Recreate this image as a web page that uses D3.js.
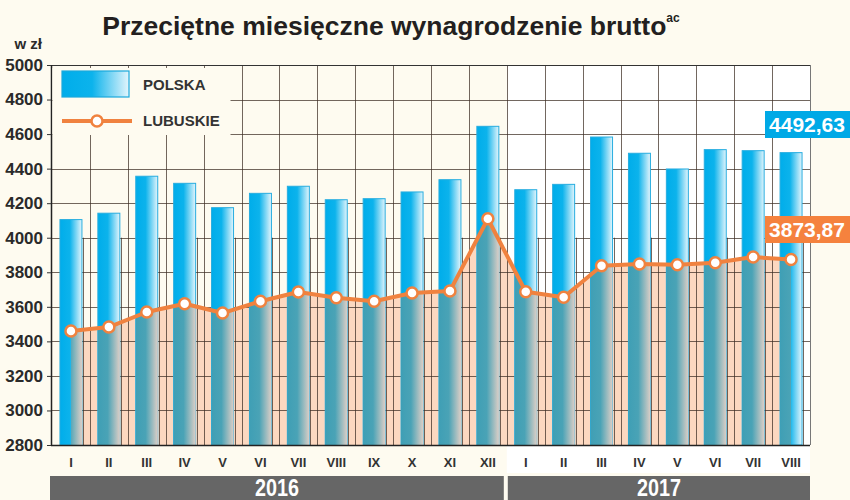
<!DOCTYPE html>
<html>
<head>
<meta charset="utf-8">
<script src="https://cdn.jsdelivr.net/npm/d3@7"></script>
<style>
  body { margin: 0; background: #fefbf0; }
  svg { display: block; font-family: "Liberation Sans", Arial, sans-serif; }
</style>
</head>
<body>
<svg id="chart" width="850" height="500"></svg>
<script>
// data
const months = ["I", "II", "III", "IV", "V", "VI", "VII", "VIII", "IX", "X", "XI", "XII",
                "I", "II", "III", "IV", "V", "VI", "VII", "VIII"]
const years = ["2016", "2017"]
const yearMonths = [12, 8]
const polska = [4105, 4142, 4356, 4315, 4174, 4257, 4298, 4220, 4226, 4265, 4336, 4645,
                4278, 4309, 4583, 4489, 4398, 4510, 4504, 4492.63]
const lubuskie = [3460, 3483, 3570, 3618, 3564, 3632, 3686, 3653, 3632, 3680, 3692, 4110,
                  3687, 3655, 3838, 3848, 3844, 3855, 3888, 3873.87]
const yTicks = [2800, 3000, 3200, 3400, 3600, 3800, 4000, 4200, 4400, 4600, 4800, 5000]
const lastPolska = "4492,63"
const lastLubuskie = "3873,87"

const pLeft = 52, pRight = 810, pTop = 65, pBottom = 445

const svg = d3.select("#chart")

const idx = months.map((m, i) => i)
const x = d3.scaleBand().domain(idx).range([pLeft, pRight]).paddingInner(0.42).paddingOuter(0.21)
const y = d3.scaleLinear().domain([2800, 5000]).range([pBottom, pTop])
const step = x.step()
const bw = x.bandwidth()
const cx = i => x(i) + bw / 2
const edge = i => x(i) - step * 0.21   // left boundary of month i

// gradients
const defs = svg.append("defs")
const grad = (id, stops) => {
  const g = defs.append("linearGradient").attr("id", id)
      .attr("x1", "0%").attr("x2", "100%").attr("y1", "0%").attr("y2", "0%")
  stops.forEach(s => g.append("stop").attr("offset", s[0]).attr("stop-color", s[1]))
}
grad("blue", [["0%", "#00adea"], ["45%", "#0cb3ec"], ["100%", "#e4f5fc"]])
grad("teal", [["0%", "#3f9fb5"], ["45%", "#4aa3b6"], ["100%", "#dccec6"]])

// backgrounds: 2017 part is white
const split = edge(12)
svg.append("rect").attr("x", split).attr("y", pTop).attr("width", pRight - split)
    .attr("height", 473 - pTop).attr("fill", "#ffffff")

// orange area under the regional line
const area = d3.area()
    .x((d, i) => cx(i))
    .y0(y(2800))
    .y1(d => y(d))
const areaPath = area(lubuskie)
svg.append("path").attr("d", areaPath).attr("fill", "#fcd8c0")

defs.append("clipPath").attr("id", "areaClip").append("path").attr("d", areaPath)

// grid
const grid = svg.append("g").attr("stroke", "rgba(60,45,35,0.72)").attr("stroke-width", 1)
grid.selectAll("line.h")
  .data(yTicks.filter(t => t > 2800 && t < 5000))
  .join("line")
    .attr("x1", pLeft).attr("x2", pRight)
    .attr("y1", d => Math.round(y(d)) + 0.5).attr("y2", d => Math.round(y(d)) + 0.5)
grid.selectAll("line.v")
  .data(idx.slice(1))
  .join("line")
    .attr("x1", d => Math.round(edge(d)) + 0.5).attr("x2", d => Math.round(edge(d)) + 0.5)
    .attr("y1", pTop).attr("y2", pBottom)
grid.selectAll("line.e")
  .data(idx)
  .join("line")
    .attr("x1", d => Math.round(x(d) + bw) + 1.5).attr("x2", d => Math.round(x(d) + bw) + 1.5)
    .attr("y1", y(4000)).attr("y2", pBottom)
// right border
svg.append("line").attr("x1", pRight + 0.5).attr("x2", pRight + 0.5)
    .attr("y1", pTop).attr("y2", pBottom).attr("stroke", "#777")

// bars
svg.append("g").selectAll("rect")
  .data(polska)
  .join("rect")
    .attr("x", (d, i) => x(i))
    .attr("y", d => y(d))
    .attr("width", bw)
    .attr("height", d => y(2800) - y(d))
    .attr("fill", "url(#blue)")
    .attr("stroke", "#27ade0")
    .attr("stroke-width", 1)

svg.append("g").attr("clip-path", "url(#areaClip)").selectAll("rect")
  .data(polska)
  .join("rect")
    .attr("x", (d, i) => x(i))
    .attr("y", d => y(d))
    .attr("width", bw)
    .attr("height", d => y(2800) - y(d))
    .attr("fill", "url(#teal)")

// axes frame
svg.append("line").attr("x1", pLeft).attr("x2", pRight).attr("y1", pTop + 0.5).attr("y2", pTop + 0.5)
    .attr("stroke", "#333")
svg.append("line").attr("x1", pLeft - 0.5).attr("x2", pLeft - 0.5).attr("y1", pTop).attr("y2", pBottom)
    .attr("stroke", "#222").attr("stroke-width", 1.5)
svg.append("line").attr("x1", pLeft - 1).attr("x2", pRight).attr("y1", pBottom + 0.5).attr("y2", pBottom + 0.5)
    .attr("stroke", "#222").attr("stroke-width", 1.5)

// y axis
const yAxis = svg.append("g").attr("transform", `translate(${pLeft - 1},0)`)
    .call(d3.axisLeft(y).tickValues(yTicks).tickFormat(d3.format("d")).tickSize(4).tickPadding(6))
yAxis.select(".domain").remove()
yAxis.selectAll("line").attr("stroke", "#333")
yAxis.selectAll("text")
    .attr("font-size", 17).attr("font-weight", "bold").attr("fill", "#2a2a2a")
    .attr("font-family", "Liberation Sans, Arial, sans-serif")
    .attr("dx", 2)

svg.append("text").attr("x", 42).attr("y", 49).attr("text-anchor", "end")
    .attr("font-size", 15).attr("font-weight", "bold").attr("fill", "#2a2a2a").text("w zł")

// month labels
svg.append("g").selectAll("text")
  .data(months)
  .join("text")
    .attr("x", (d, i) => cx(i))
    .attr("y", 467)
    .attr("text-anchor", "middle")
    .attr("font-size", 13).attr("font-weight", "bold").attr("fill", "#333")
    .text(d => d)

// year bars
let start = 0
years.forEach((yr, k) => {
  const n = yearMonths[k]
  const x0 = k === 0 ? pLeft - 2 : edge(start) + 1
  const x1 = k === 0 ? edge(start + n) - 3 : pRight
  svg.append("rect").attr("x", x0).attr("y", 476).attr("width", x1 - x0).attr("height", 24)
      .attr("fill", "#666666")
  svg.append("text")
      .attr("transform", `translate(${(x0 + x1) / 2},496) scale(0.86,1)`)
      .attr("text-anchor", "middle")
      .attr("font-size", 23).attr("font-weight", "bold").attr("fill", "#ffffff")
      .text(yr)
  start += n
})

// line + points
svg.append("path")
    .datum(lubuskie)
    .attr("d", d3.line().x((d, i) => cx(i)).y(d => y(d)))
    .attr("fill", "none").attr("stroke", "#f0823f").attr("stroke-width", 4)
    .attr("stroke-linejoin", "round")
svg.append("g").selectAll("circle")
  .data(lubuskie)
  .join("circle")
    .attr("cx", (d, i) => cx(i)).attr("cy", d => y(d)).attr("r", 5.5)
    .attr("fill", "#ffffff").attr("stroke", "#f0823f").attr("stroke-width", 2.5)

// legend
svg.append("rect").attr("x", pLeft + 0.5).attr("y", pTop + 3).attr("width", 230 - pLeft)
    .attr("height", 135 - pTop - 3).attr("fill", "#fefbf0")
svg.append("rect").attr("x", 62).attr("y", 71).attr("width", 67).attr("height", 26)
    .attr("fill", "url(#blue)").attr("stroke", "#1aa8dc").attr("stroke-width", 1.2)
svg.append("line").attr("x1", 62).attr("x2", 132).attr("y1", 121).attr("y2", 121)
    .attr("stroke", "#f0823f").attr("stroke-width", 4)
svg.append("circle").attr("cx", 97).attr("cy", 121).attr("r", 5.5)
    .attr("fill", "#ffffff").attr("stroke", "#f0823f").attr("stroke-width", 2.5)
svg.append("text").attr("x", 143).attr("y", 90).attr("font-size", 15).attr("font-weight", "bold")
    .attr("fill", "#333").text("POLSKA")
svg.append("text").attr("x", 143).attr("y", 126).attr("font-size", 15).attr("font-weight", "bold")
    .attr("fill", "#333").text("LUBUSKIE")

// value boxes
svg.append("rect").attr("x", 765).attr("y", 111).attr("width", 85).attr("height", 27).attr("fill", "#00a9e6")
svg.append("text").attr("x", 807).attr("y", 132).attr("text-anchor", "middle")
    .attr("font-size", 21).attr("font-weight", "bold").attr("fill", "#fff").text(lastPolska)
svg.append("rect").attr("x", 765).attr("y", 216).attr("width", 85).attr("height", 27).attr("fill", "#f5823e")
svg.append("text").attr("x", 807).attr("y", 237).attr("text-anchor", "middle")
    .attr("font-size", 21).attr("font-weight", "bold").attr("fill", "#fff").text(lastLubuskie)

// title
const title = svg.append("text").attr("x", 391).attr("y", 35).attr("text-anchor", "middle")
    .attr("font-size", 26.5).attr("font-weight", "bold").attr("fill", "#231f20")
title.append("tspan").text("Przeciętne miesięczne wynagrodzenie brutto")
title.append("tspan").attr("font-size", 12).attr("dy", -13).text("ac")
</script>
</body>
</html>
